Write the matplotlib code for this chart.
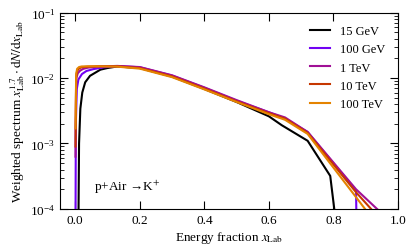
import numpy as np
import matplotlib
matplotlib.use("Agg")
import matplotlib.pyplot as plt

plt.rcParams['font.family'] = ['Liberation Serif', 'DejaVu Serif']
plt.rcParams['mathtext.fontset'] = 'stix'
plt.rcParams['font.size'] = 9.5

labels = ['15 GeV', '100 GeV', '1 TeV', '10 TeV', '100 TeV']

# black, 15 GeV
x_15gev = [0.010, 0.012, 0.016, 0.022, 0.031, 0.046, 0.078, 0.10, 0.13, 0.2, 0.3,
           0.4, 0.5, 0.6, 0.64, 0.72, 0.79, 0.81]
y_15gev = [5e-5, 1e-3, 3.4e-3, 6e-3, 8.6e-3, 0.0108, 0.0134, 0.0142, 0.0150, 0.0142,
           0.0105, 0.0068, 0.0043, 0.0026, 0.0019, 0.0011, 3.2e-4, 5e-5]

x_100gev = [0.001, 0.002, 0.005, 0.01, 0.021, 0.035, 0.057, 0.09, 0.13, 0.2, 0.3,
            0.4, 0.5, 0.6, 0.65, 0.72, 0.87, 0.876]
y_100gev = [5e-5, 2e-3, 6.8e-3, 9.5e-3, 0.0115, 0.0128, 0.0137, 0.0146, 0.0152, 0.0146,
            0.0109, 0.0071, 0.0045, 0.0030, 0.0024, 0.0015, 1.9e-4, 1e-6]

x_1tev = [0.001, 0.003, 0.008, 0.0155, 0.025, 0.04, 0.07, 0.13, 0.2, 0.3,
          0.4, 0.5, 0.6, 0.65, 0.72, 0.87, 0.945]
y_1tev = [6.3e-4, 9.7e-3, 0.0118, 0.013, 0.0138, 0.0144, 0.0149, 0.0153, 0.0147, 0.0110,
          0.0072, 0.0046, 0.0030, 0.0025, 0.0015, 2.0e-4, 9e-5]

x_10tev = [0.001, 0.003, 0.006, 0.012, 0.02, 0.04, 0.07, 0.13, 0.2, 0.3,
           0.4, 0.5, 0.6, 0.65, 0.72, 0.87, 0.925]
y_10tev = [9e-4, 0.0105, 0.0128, 0.0140, 0.0146, 0.0149, 0.0151, 0.0151, 0.0142, 0.0106,
           0.0069, 0.0044, 0.0029, 0.0024, 0.00145, 1.8e-4, 9e-5]

x_100tev = [0.001, 0.003, 0.006, 0.012, 0.02, 0.04, 0.07, 0.13, 0.2, 0.3,
            0.4, 0.5, 0.6, 0.65, 0.72, 0.905]
y_100tev = [1.7e-3, 0.0115, 0.0138, 0.0147, 0.0150, 0.0151, 0.0151, 0.0149, 0.0139, 0.0103,
            0.0067, 0.0043, 0.0028, 0.0023, 0.0014, 9e-5]

xs = [x_15gev, x_100gev, x_1tev, x_10tev, x_100tev]
ys = [y_15gev, y_100gev, y_1tev, y_10tev, y_100tev]
colors = [plt.cm.gnuplot(i / 5) for i in range(5)]

fig = plt.figure(figsize=(4.15, 2.53), dpi=100)
ax = fig.add_axes([0.1446, 0.17, 0.8145, 0.7766])

for x, y, c, lab in zip(xs, ys, colors, labels):
    ax.plot(x, y, color=c, lw=1.5, label=lab)

ax.set_yscale('log')
ax.set_xlim(-0.047, 1.0)
ax.set_ylim(1e-4, 1e-1)
ax.set_xticks([0.0, 0.2, 0.4, 0.6, 0.8, 1.0])
ax.set_xticklabels(['0.0', '0.2', '0.4', '0.6', '0.8', '1.0'])
ax.tick_params(which='both', direction='in', top=True, right=True)
ax.tick_params(which='major', length=6)
ax.tick_params(which='minor', length=3)
ax.set_xlabel(r'Energy fraction $x_{\rm Lab}$', labelpad=2)
ax.set_ylabel(r'Weighted spectrum $x_{\rm Lab}^{1.7}\cdot{\rm d}N/{\rm d}x_{\rm Lab}$', labelpad=2)

ax.text(0.10, 0.117, 'p+Air \u2192K$^{+}$', transform=ax.transAxes,
        va='center', ha='left')

ax.legend(loc='upper right', frameon=False, fontsize=9, handlelength=1.6,
          borderaxespad=0.6)

fig.savefig('out.png', dpi=100)
